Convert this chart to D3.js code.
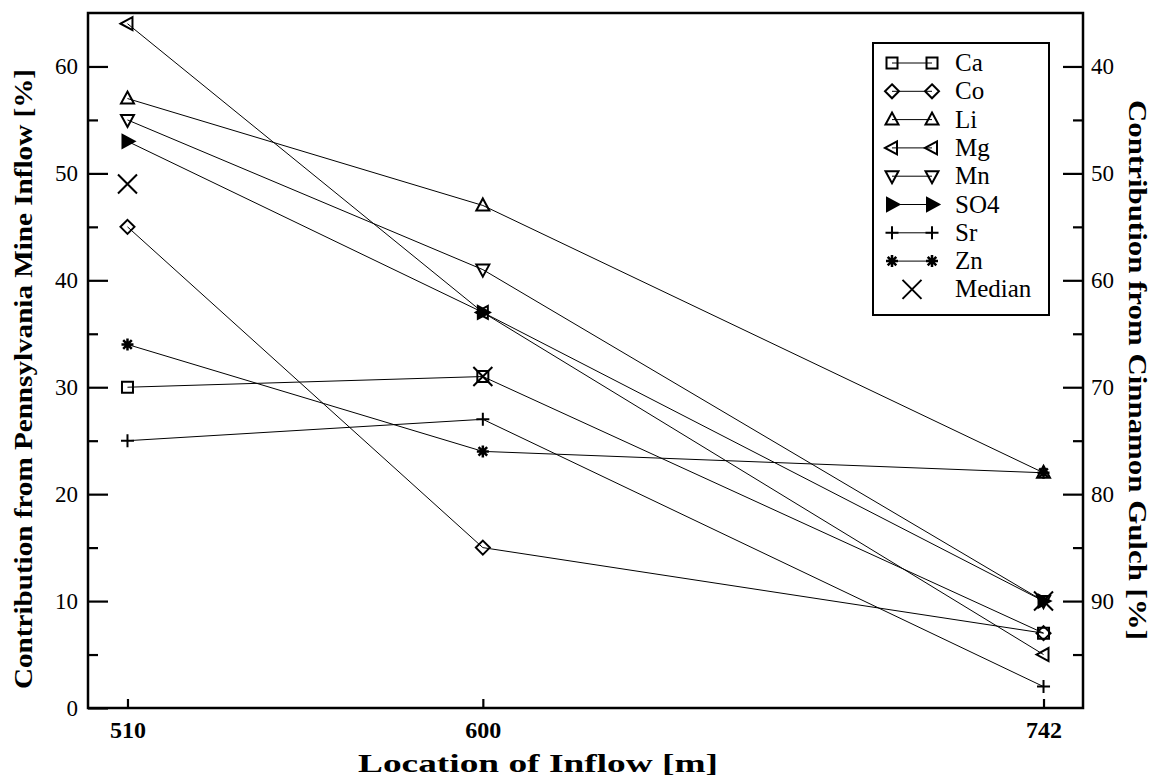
<!DOCTYPE html>
<html>
<head>
<meta charset="utf-8">
<script src="https://cdn.jsdelivr.net/npm/d3@7"></script>
<style>
  body { margin: 0; background: #fff; }
  svg text { font-family: "Liberation Serif", "Times New Roman", Times, "DejaVu Serif", serif; }
</style>
</head>
<body>
<div id="chart"></div>
<script>
// data
var locations = [510, 600, 742];
var Ca = [30, 31, 7];
var Co = [45, 15, 7];
var Li = [57, 47, 22];
var Mg = [64, 37, 5];
var Mn = [55, 41, 10];
var SO4 = [53, 37, 10];
var Sr = [25, 27, 2];
var Zn = [34, 24, 22];
var Median = [49, 31, 10];
var seriesNames = ["Ca", "Co", "Li", "Mg", "Mn", "SO4", "Sr", "Zn", "Median"];
var seriesVals = [Ca, Co, Li, Mg, Mn, SO4, Sr, Zn, Median];
var leftTicks = [0, 10, 20, 30, 40, 50, 60];
var rightTicks = [40, 50, 60, 70, 80, 90];

var W = 1156, H = 780;
var m = {left: 88, right: 73, top: 13, bottom: 72};
var serif = "'Liberation Serif', 'Times New Roman', Times, serif";

var svg = d3.select("#chart").append("svg")
  .attr("width", W).attr("height", H);

var x = d3.scaleLinear().domain([500, 752]).range([m.left, W - m.right]);
var y = d3.scaleLinear().domain([0, 65]).range([H - m.bottom, m.top]);
var y2 = d3.scaleLinear().domain([100, 35]).range([H - m.bottom, m.top]);

// marker shapes
function markerPath(name) {
  switch (name) {
    case "Ca": return "M-5.5,-5.5H5.5V5.5H-5.5Z";
    case "Co": return "M0,-7L7,0L0,7L-7,0Z";
    case "Li": return "M0,-7L6.5,5L-6.5,5Z";
    case "Mg": return "M-7,0L5,-6.5L5,6.5Z";
    case "Mn": return "M0,7L6.5,-5L-6.5,-5Z";
    case "SO4": return "M7,0L-5,-6.5L-5,6.5Z";
    case "Sr": return "M-6.5,0H6.5M0,-6.5V6.5";
    case "Zn": return "M-6,0H6M0,-6V6M-4.3,-4.3L4.3,4.3M-4.3,4.3L4.3,-4.3";
    case "Median": return "M-9.5,-9.5L9.5,9.5M9.5,-9.5L-9.5,9.5";
  }
}
function drawMarker(g, name, cx, cy) {
  g.append("path")
    .attr("d", markerPath(name))
    .attr("transform", "translate(" + cx + "," + cy + ")")
    .attr("fill", name == "SO4" ? "#000" : "none")
    .attr("stroke", "#000")
    .attr("stroke-width", name == "Zn" ? 2.5 : 2);
}

// lines
var line = d3.line().x(function(d, i) { return x(locations[i]); }).y(function(d) { return y(d); });
var plot = svg.append("g");
seriesNames.forEach(function(name, k) {
  if (name == "Median") return;
  plot.append("path")
    .attr("d", line(seriesVals[k]))
    .attr("fill", "none")
    .attr("stroke", "#000")
    .attr("stroke-width", 1);
});
seriesNames.forEach(function(name, k) {
  seriesVals[k].forEach(function(v, i) {
    drawMarker(plot, name, x(locations[i]), y(v));
  });
});

// axes
var axL = svg.append("g").attr("transform", "translate(" + m.left + ",0)")
  .call(d3.axisLeft(y).tickValues(leftTicks).tickSize(-20).tickPadding(8));
var axLm = svg.append("g").attr("transform", "translate(" + m.left + ",0)")
  .call(d3.axisLeft(y).tickValues([5, 15, 25, 35, 45, 55]).tickSize(-10).tickFormat(""));
var axR = svg.append("g").attr("transform", "translate(" + (W - m.right) + ",0)")
  .call(d3.axisRight(y2).tickValues(rightTicks).tickSize(-20).tickPadding(8));
var axRm = svg.append("g").attr("transform", "translate(" + (W - m.right) + ",0)")
  .call(d3.axisRight(y2).tickValues([45, 55, 65, 75, 85, 95]).tickSize(-10).tickFormat(""));
var axB = svg.append("g").attr("transform", "translate(0," + (H - m.bottom) + ")")
  .call(d3.axisBottom(x).tickValues(locations).tickSize(-9).tickPadding(10).tickFormat(d3.format("d")));

[axL, axLm, axR, axRm, axB].forEach(function(a) {
  a.attr("font-family", serif);
  a.select(".domain").remove();
  a.selectAll(".tick line").attr("stroke-width", 2.2);
  a.selectAll("text").attr("font-size", 23).attr("fill", "#000");
});
axB.selectAll("text").attr("font-weight", "bold").attr("font-size", 24).attr("dy", "0.85em");
axL.selectAll("text").attr("dx", "-2");

// frame
svg.append("rect")
  .attr("x", m.left).attr("y", m.top)
  .attr("width", W - m.left - m.right).attr("height", H - m.top - m.bottom)
  .attr("fill", "none").attr("stroke", "#000").attr("stroke-width", 2.5);

// axis titles
svg.append("text")
  .attr("transform", "translate(32,379) rotate(-90)")
  .attr("text-anchor", "middle")
  .attr("font-family", serif)
  .attr("font-size", 25).attr("font-weight", "bold")
  .attr("textLength", 620).attr("lengthAdjust", "spacingAndGlyphs")
  .text("Contribution from Pennsylvania Mine Inflow [%]");
svg.append("text")
  .attr("transform", "translate(1129,370) rotate(90)")
  .attr("text-anchor", "middle")
  .attr("font-family", serif)
  .attr("font-size", 25).attr("font-weight", "bold")
  .attr("textLength", 540).attr("lengthAdjust", "spacingAndGlyphs")
  .text("Contribution from Cinnamon Gulch [%]");
svg.append("text")
  .attr("x", 538).attr("y", 772)
  .attr("text-anchor", "middle")
  .attr("font-family", serif)
  .attr("font-size", 26).attr("font-weight", "bold")
  .attr("textLength", 360).attr("lengthAdjust", "spacingAndGlyphs")
  .text("Location of Inflow [m]");

// legend
var lg = svg.append("g");
lg.append("rect")
  .attr("x", 873).attr("y", 43).attr("width", 176).attr("height", 272)
  .attr("fill", "#fff").attr("stroke", "#000").attr("stroke-width", 2);
seriesNames.forEach(function(name, k) {
  var ly = 63 + k * 28.3;
  if (name != "Median") {
    lg.append("line")
      .attr("x1", 892).attr("x2", 932).attr("y1", ly).attr("y2", ly)
      .attr("stroke", "#000").attr("stroke-width", 1);
    drawMarker(lg, name, 892, ly);
    drawMarker(lg, name, 932, ly);
  } else {
    drawMarker(lg, name, 912, ly);
  }
  lg.append("text")
    .attr("x", 955).attr("y", ly + 8)
    .attr("font-family", serif)
    .attr("font-size", 25)
    .text(name);
});
</script>
</body>
</html>
